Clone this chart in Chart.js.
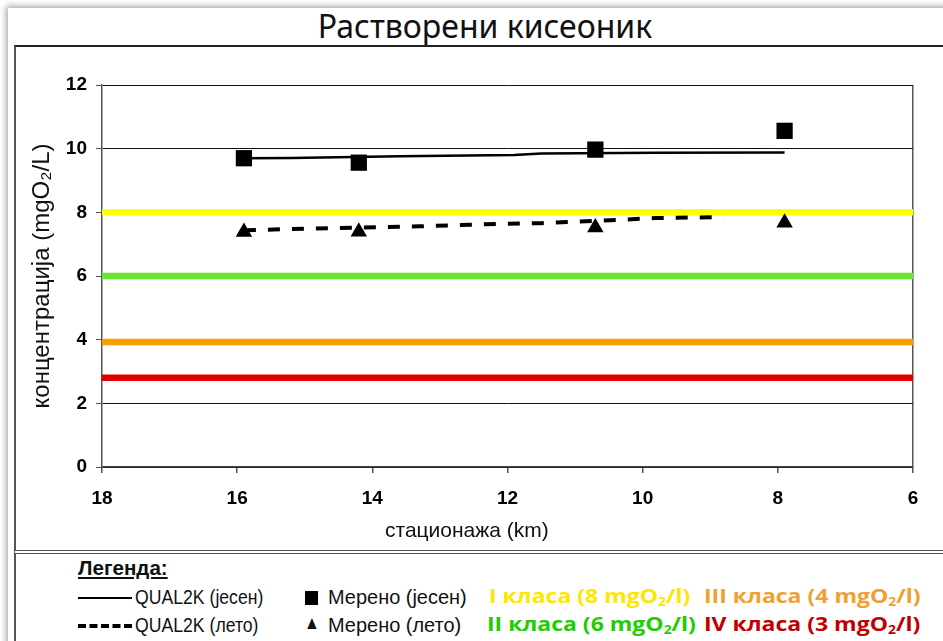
<!DOCTYPE html>
<html>
<head>
<meta charset="utf-8">
<script src="https://cdn.jsdelivr.net/npm/chart.js@4.4.1/dist/chart.umd.min.js"></script>
<style>
  body { margin: 0; width: 943px; height: 641px; overflow: hidden; position: relative; background: #fff; }
  #karta { position: absolute; left: 8px; top: 8px; width: 1000px; height: 700px; background: #fff; box-shadow: 0 0 6px 2px rgba(0,0,0,0.35); }
  #naslov { position: absolute; left: 0; top: 4px; width: 970px; text-align: center; font-family: "Noto Sans", sans-serif; font-size: 32px; color: #111; }
  #okvir { position: absolute; left: 14px; top: 45px; width: 1000px; height: 503px; border-top: 2px solid #222; border-left: 2px solid #555; border-bottom: 4px double #555; }
  #legokvir { position: absolute; left: 14px; top: 554px; width: 1000px; height: 100px; border-left: 2px solid #555; }
  #platno { position: absolute; left: 16px; top: 47px; width: 927px; height: 503px; }
  #xnaslov { position: absolute; left: 385px; top: 518px; font-family: "Liberation Sans", Arial, sans-serif; font-size: 21px; color: #111; }
  .leg { position: absolute; font-family: "Liberation Sans", Arial, sans-serif; font-size: 21px; color: #111; white-space: nowrap; transform: scaleX(0.84); transform-origin: 0 0; }
  .klasa { position: absolute; font-family: "Open Sans", "DejaVu Sans", sans-serif; font-weight: bold; font-size: 20px; white-space: nowrap; transform: scaleX(1.15); transform-origin: 0 0; }
  sub { font-size: 60%; vertical-align: -3px; }
</style>
</head>
<body>
<div id="karta"></div>
<div id="naslov">Растворени кисеоник</div>
<div id="okvir"></div>
<div id="legokvir"></div>
<div id="platno"><canvas id="grafik"></canvas></div>
<div id="xnaslov">стационажа (km)</div>

<div class="leg" style="left:78px; top:556px; font-weight:bold; text-decoration:underline; transform:scaleX(0.98);">Легенда:</div>

<div style="position:absolute; left:78px; top:597px; width:54px; border-top:2px solid #000;"></div>
<div class="leg" style="left:135px; top:585px;">QUAL2K (јесен)</div>
<div style="position:absolute; left:305px; top:591px; width:13px; height:14px; background:#000;"></div>
<div class="leg" style="left:328px; top:585px; transform:scaleX(0.95);">Мерено (јесен)</div>
<div class="klasa" style="left:489px; top:582px; color:#ffe600;">I класа (8 mgO<sub>2</sub>/l)</div>
<div class="klasa" style="left:704px; top:582px; color:#f0a030;">III класа (4 mgO<sub>2</sub>/l)</div>

<div style="position:absolute; left:78px; top:624px; width:54px; border-top:4px dashed #000;"></div>
<div class="leg" style="left:135px; top:613px;">QUAL2K (лето)</div>
<div class="leg" style="left:304px; top:612px; font-size:19px;">▲</div>
<div class="leg" style="left:328px; top:613px; transform:scaleX(0.95);">Мерено (лето)</div>
<div class="klasa" style="left:487px; top:610px; color:#22cc00;">II класа (6 mgO<sub>2</sub>/l)</div>
<div class="klasa" style="left:704px; top:610px; color:#c00000;">IV класа (3 mgO<sub>2</sub>/l)</div>

<script>
// мерења (km, mgO2/L)
const mernaMestaKm = [15.9, 14.2, 10.7, 7.9];
const merenoJesen = [9.70, 9.56, 9.97, 10.56];
const merenoLeto = [7.38, 7.39, 7.52, 7.67];

// QUAL2K модел
const modelJesenKm = [15.9, 15.2, 13.6, 11.9, 11.5, 9.8, 7.9];
const modelJesen = [9.70, 9.71, 9.76, 9.80, 9.85, 9.87, 9.88];
const modelLetoKm = [15.9, 14.2, 13.3, 12.4, 11.5, 10.6, 9.8, 8.8];
const modelLeto = [7.44, 7.52, 7.56, 7.62, 7.66, 7.74, 7.82, 7.85];

// граничне вредности класа
const klaseNivo = [8, 6, 3.93, 2.8];
const klaseBoja = ['#ffff00', '#66e633', '#f5a000', '#e00000'];

// осе
const xMin = 6, xMax = 18, xKorak = 2;
const yMin = 0, yMax = 12, yKorak = 2;

const tacke = (xs, ys) => xs.map((x, i) => ({ x: x, y: ys[i] }));

const skupovi = [
    {
        data: tacke(mernaMestaKm, merenoJesen),
        showLine: false, pointStyle: 'rect', pointRadius: 11.5,
        backgroundColor: '#000', borderColor: '#000', borderWidth: 0
    },
    {
        data: tacke(mernaMestaKm, merenoLeto),
        showLine: false, pointStyle: 'triangle', pointRadius: 9.5,
        backgroundColor: '#000', borderColor: '#000', borderWidth: 0
    },
    {
        data: tacke(modelJesenKm, modelJesen),
        showLine: true, pointRadius: 0, borderColor: '#000', borderWidth: 2.5
    },
    {
        data: tacke(modelLetoKm, modelLeto),
        showLine: true, pointRadius: 0, borderColor: '#000', borderWidth: 4,
        borderDash: [12, 12]
    }
];

// хоризонталне линије класа преко целе осе
klaseNivo.forEach((nivo, i) => {
    skupovi.push({
        data: [{ x: xMax, y: nivo }, { x: xMin, y: nivo }],
        showLine: true, pointRadius: 0, borderColor: klaseBoja[i], borderWidth: 6.5
    });
});

const fontOsa = { family: 'Liberation Sans', size: 19, weight: 'bold' };

new Chart(document.getElementById('grafik').getContext('2d'), {
    type: 'scatter',
    data: { datasets: skupovi },
    options: {
        responsive: true,
        maintainAspectRatio: false,
        animation: false,
        layout: { padding: { left: 0, right: 30, top: 38, bottom: 0 } },
        plugins: { legend: { display: false }, tooltip: { enabled: false } },
        scales: {
            x: {
                type: 'linear', reverse: true, min: xMin, max: xMax,
                afterFit: a => { a.height = 83; },
                ticks: { stepSize: xKorak, color: '#000', font: fontOsa, padding: 14 },
                grid: {
                    color: c => (c.tick && c.tick.value === xMin) ? '#555' : 'rgba(0,0,0,0)',
                    tickColor: '#555', tickLength: 6, lineWidth: 1.5
                },
                border: { color: '#444', width: 1.5 }
            },
            y: {
                type: 'linear', min: yMin, max: yMax,
                afterFit: a => { a.width = 86; },
                ticks: { stepSize: yKorak, color: '#000', font: fontOsa, padding: 9 },
                grid: { color: '#111', tickColor: '#555', tickLength: 6, lineWidth: 1 },
                border: { color: '#555', width: 1.5 },
                title: {
                    display: true, text: 'концентрација (mgO₂/L)', color: '#111',
                    font: { family: 'Liberation Sans', size: 24 }, padding: { top: 12 }
                }
            }
        }
    }
});
</script>
</body>
</html>
